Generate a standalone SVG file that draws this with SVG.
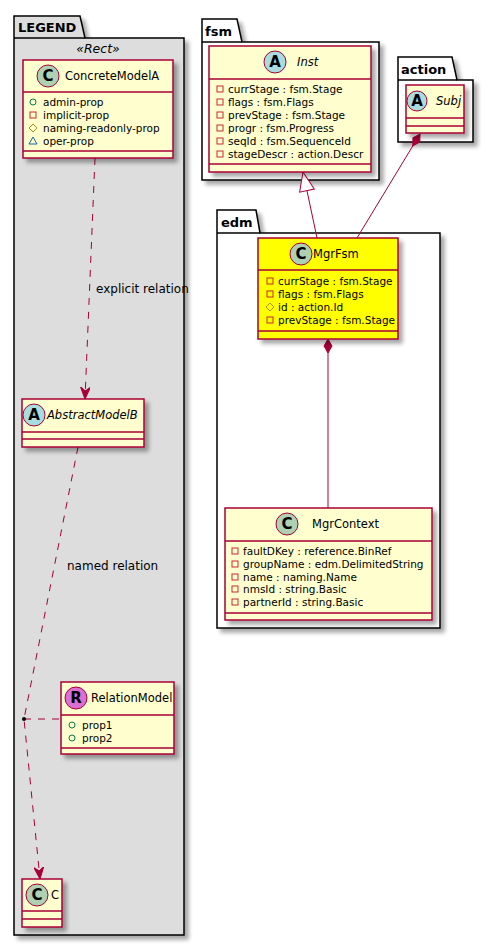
<svg xmlns="http://www.w3.org/2000/svg" width="493" height="946" viewBox="0 0 493 946">
<defs>
<filter id="sh" x="-10%" y="-10%" width="130%" height="130%">
<feGaussianBlur in="SourceAlpha" stdDeviation="2"/>
<feOffset dx="4" dy="4" result="o"/>
<feComponentTransfer in="o"><feFuncA type="linear" slope="0.35"/></feComponentTransfer>
<feMerge><feMergeNode/><feMergeNode in="SourceGraphic"/></feMerge>
</filter>
<marker id="open" viewBox="0 0 12 10" refX="12" refY="5" markerWidth="12" markerHeight="10" markerUnits="userSpaceOnUse" orient="auto">
<path d="M0,0 L12,5 L0,10 L4,5 Z" fill="#A80036" stroke="#A80036" stroke-width="1"/>
</marker>
<marker id="diam" viewBox="-1 -1 16 10" refX="0" refY="4" markerWidth="16" markerHeight="10" markerUnits="userSpaceOnUse" orient="auto">
<path d="M0,4 L7,0 L14,4 L7,8 Z" fill="#A80036" stroke="#A80036" stroke-width="1"/>
</marker>
<marker id="tri" viewBox="-1 -1 21 17" refX="19" refY="7.5" markerWidth="21" markerHeight="17" markerUnits="userSpaceOnUse" orient="auto">
<path d="M0,0 L19,7.5 L0,15 Z" fill="#FFFFFF" stroke="#A80036" stroke-width="1"/>
</marker>
<style>
text{font-family:"DejaVu Sans",Verdana,sans-serif;fill:#000}
.pkg{stroke:#000;stroke-width:1.5;fill:#FFFFFF}
.pkgl{fill:#DDDDDD}
.pl{stroke:#000;stroke-width:1.5;fill:none}
.pt{font-weight:bold;font-size:13px}
.box{fill:#FEFECE;stroke:#A80036;stroke-width:1.5}
.yel{fill:#FFFF00}
.sep{stroke:#A80036;stroke-width:1.5;fill:none}
.cc{fill:#ADD1B2;stroke:#A80036;stroke-width:1}
.ca{fill:#A9DCDF;stroke:#A80036;stroke-width:1}
.cr{fill:#DA70D6;stroke:#A80036;stroke-width:1}
.lt{font-weight:bold;font-size:15px;text-anchor:middle}
.nm{font-size:11.5px}
.it{font-style:italic}
.at{font-size:10.5px}
.lb{font-size:12px}
.pub{fill:none;stroke:#038048;stroke-width:1}
.pri{fill:none;stroke:#C82930;stroke-width:1}
.pro{fill:none;stroke:#B38D22;stroke-width:1}
.pac{fill:none;stroke:#1963A0;stroke-width:1}
.ln{stroke:#A80036;stroke-width:1;fill:none}
.da{stroke-dasharray:7,7}
</style>
</defs>

<g id="pkg-legend">
<path class="pkg pkgl" filter="url(#sh)" d="M14,16 L80,16 L85,38 L184,38 L184,935 L14,935 Z"/>
<path class="pl" d="M14,38 L85,38"/>
<text class="pt" x="18" y="32">LEGEND</text>
<text class="it" x="98" y="53" font-size="12.5" text-anchor="middle">«Rect»</text>
</g>

<g id="pkg-fsm">
<path class="pkg" filter="url(#sh)" d="M202,19 L237,19 L242,42 L379,42 L379,180 L202,180 Z"/>
<path class="pl" d="M202,42 L242,42"/>
<text class="pt" x="205" y="36">fsm</text>
</g>

<g id="pkg-action">
<path class="pkg" filter="url(#sh)" d="M398,57 L452,57 L457,80 L473,80 L473,142 L398,142 Z"/>
<path class="pl" d="M398,80 L457,80"/>
<text class="pt" x="401" y="74">action</text>
</g>

<g id="pkg-edm">
<path class="pkg" filter="url(#sh)" d="M217,210 L256,210 L260,233 L440,233 L440,628 L217,628 Z"/>
<path class="pl" d="M217,233 L260,233"/>
<text class="pt" x="221" y="227">edm</text>
</g>

<g id="connectors">
<path class="ln da" d="M95,158 L85,399" marker-end="url(#open)"/>
<text class="lb" x="96" y="293">explicit relation</text>
<path class="ln da" d="M78,447 L24,719 L40,879" marker-end="url(#open)"/>
<text class="lb" x="67" y="570">named relation</text>
<path class="ln da" d="M24,719 L61,719"/>
<circle cx="24" cy="719" r="2" fill="#000"/>
<path class="ln" d="M317,238 L303,172" marker-end="url(#tri)"/>
<path class="ln" d="M420,134 L357,238" marker-start="url(#diam)"/>
<path class="ln" d="M328,339 L328,508" marker-start="url(#diam)"/>
</g>

<g id="ConcreteModelA">
<rect class="box" filter="url(#sh)" x="23" y="60" width="150" height="98"/>
<circle class="cc" cx="48" cy="76" r="11"/>
<text class="lt" x="48" y="81">C</text>
<text class="nm" x="65" y="80">ConcreteModelA</text>
<path class="sep" d="M23,92 L173,92 M23,151 L173,151"/>
<circle class="pub" cx="33" cy="102" r="3"/>
<text class="at" x="43" y="106">admin-prop</text>
<rect class="pri" x="30" y="112" width="6" height="6"/>
<text class="at" x="43" y="119">implicit-prop</text>
<path class="pro" d="M33,124 L37,128 L33,132 L29,128 Z"/>
<text class="at" x="43" y="132">naming-readonly-prop</text>
<path class="pac" d="M33,137 L37,144 L29,144 Z"/>
<text class="at" x="43" y="145">oper-prop</text>
</g>

<g id="AbstractModelB">
<rect class="box" filter="url(#sh)" x="22" y="399" width="122" height="48"/>
<circle class="ca" cx="34" cy="415" r="11"/>
<text class="lt" x="34" y="420">A</text>
<text class="nm it" x="47" y="419">AbstractModelB</text>
<path class="sep" d="M22,432 L144,432 M22,439 L144,439"/>
</g>

<g id="RelationModel">
<rect class="box" filter="url(#sh)" x="61" y="682" width="113" height="72"/>
<circle class="cr" cx="76" cy="698" r="11"/>
<text class="lt" x="76" y="703">R</text>
<text class="nm" x="91" y="702">RelationModel</text>
<path class="sep" d="M61,715 L174,715 M61,748 L174,748"/>
<circle class="pub" cx="72" cy="725" r="3"/>
<text class="at" x="82" y="729">prop1</text>
<circle class="pub" cx="72" cy="738" r="3"/>
<text class="at" x="82" y="742">prop2</text>
</g>

<g id="C">
<rect class="box" filter="url(#sh)" x="22" y="879" width="40" height="48"/>
<circle class="cc" cx="37" cy="895" r="11"/>
<text class="lt" x="37" y="900">C</text>
<text class="nm" x="51" y="899">C</text>
<path class="sep" d="M22,911 L62,911 M22,919 L62,919"/>
</g>

<g id="Inst">
<rect class="box" filter="url(#sh)" x="209" y="46" width="162" height="126"/>
<circle class="ca" cx="275" cy="62" r="11"/>
<text class="lt" x="275" y="67">A</text>
<text class="nm it" x="297" y="66">Inst</text>
<path class="sep" d="M209,79 L371,79 M209,164 L371,164"/>
<rect class="pri" x="217" y="86" width="6" height="6"/>
<text class="at" x="228" y="93">currStage : fsm.Stage</text>
<rect class="pri" x="217" y="99" width="6" height="6"/>
<text class="at" x="228" y="106">flags : fsm.Flags</text>
<rect class="pri" x="217" y="112" width="6" height="6"/>
<text class="at" x="228" y="119">prevStage : fsm.Stage</text>
<rect class="pri" x="217" y="125" width="6" height="6"/>
<text class="at" x="228" y="132">progr : fsm.Progress</text>
<rect class="pri" x="217" y="138" width="6" height="6"/>
<text class="at" x="228" y="145">seqId : fsm.SequenceId</text>
<rect class="pri" x="217" y="151" width="6" height="6"/>
<text class="at" x="228" y="158">stageDescr : action.Descr</text>
</g>

<g id="Subj">
<rect class="box" filter="url(#sh)" x="406" y="85" width="58" height="48"/>
<circle class="ca" cx="417" cy="101" r="10"/>
<text class="lt" x="417" y="106" font-size="14">A</text>
<text class="nm it" x="436" y="105" font-size="11">Subj</text>
<path class="sep" d="M406,118 L464,118 M406,126 L464,126"/>
</g>

<g id="MgrFsm">
<rect class="box yel" filter="url(#sh)" x="258" y="238" width="140" height="101"/>
<circle class="cc" cx="301" cy="254" r="11"/>
<text class="lt" x="301" y="259">C</text>
<text class="nm" x="313" y="258">MgrFsm</text>
<path class="sep" d="M258,270 L398,270 M258,331 L398,331"/>
<rect class="pri" x="267" y="278" width="6" height="6"/>
<text class="at" x="278" y="285">currStage : fsm.Stage</text>
<rect class="pri" x="267" y="291" width="6" height="6"/>
<text class="at" x="278" y="298">flags : fsm.Flags</text>
<path class="pro" d="M270,303 L274,307 L270,311 L266,307 Z"/>
<text class="at" x="278" y="311">id : action.Id</text>
<rect class="pri" x="267" y="317" width="6" height="6"/>
<text class="at" x="278" y="324">prevStage : fsm.Stage</text>
</g>

<g id="MgrContext">
<rect class="box" filter="url(#sh)" x="225" y="508" width="207" height="112"/>
<circle class="cc" cx="287" cy="524" r="11"/>
<text class="lt" x="287" y="529">C</text>
<text class="nm" x="312" y="528">MgrContext</text>
<path class="sep" d="M225,541 L432,541 M225,613 L432,613"/>
<rect class="pri" x="232" y="548" width="6" height="6"/>
<text class="at" x="243" y="555">faultDKey : reference.BinRef</text>
<rect class="pri" x="232" y="561" width="6" height="6"/>
<text class="at" x="243" y="568">groupName : edm.DelimitedString</text>
<rect class="pri" x="232" y="574" width="6" height="6"/>
<text class="at" x="243" y="581">name : naming.Name</text>
<rect class="pri" x="232" y="586" width="6" height="6"/>
<text class="at" x="243" y="593">nmsId : string.Basic</text>
<rect class="pri" x="232" y="599" width="6" height="6"/>
<text class="at" x="243" y="606">partnerId : string.Basic</text>
</g>
</svg>
